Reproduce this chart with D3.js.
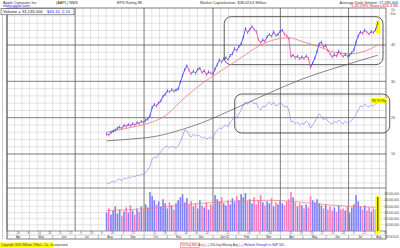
<!DOCTYPE html>
<html>
<head>
<meta charset="utf-8">
<script src="https://cdn.jsdelivr.net/npm/d3@7"></script>
<style>
  body { margin: 0; background: #fff; }
  svg { display: block; font-family: "Liberation Sans", Arial, sans-serif; }
</style>
</head>
<body>
<script>

// ---- chart data ----
const axisStart = new Date(2004, 3, 1), axisEnd = new Date(2005, 7, 20);
const firstDay = new Date(2004, 7, 12), lastDay = new Date(2005, 7, 9);

// closing price, one every two trading days
const closes = [15.5,15.2,15.9,16.3,16.6,17.1,17.4,17.0,17.9,17.6,
  18.1,17.8,18.3,18.0,18.6,18.4,19.0,18.7,19.3,19.6,
  20.5,22.8,23.6,23.2,24.1,24.6,25.9,26.4,27.4,27.1,
  27.7,27.3,27.6,27.9,29.8,31.6,33.2,34.3,33.0,32.1,
  32.8,32.2,33.3,33.6,32.4,32.9,31.8,32.6,32.3,32.0,
  33.4,34.6,35.9,35.3,36.2,36.5,36.0,37.1,37.6,39.0,
  38.4,39.6,40.3,42.1,44.5,43.4,44.3,45.1,44.2,43.8,
  41.5,40.6,41.4,41.0,42.3,42.9,42.4,43.6,42.6,42.9,
  43.8,44.1,43.0,42.6,41.8,36.8,37.2,36.5,36.9,36.2,
  36.7,36.3,37.0,36.4,33.8,35.0,36.4,38.2,40.3,40.8,
  39.4,39.9,38.4,37.6,36.7,37.3,36.9,38.3,37.6,36.8,
  37.4,36.9,37.2,37.9,38.6,40.8,42.5,43.6,43.2,44.1,
  43.5,43.0,43.7,43.4,44.2,46.1];

// daily volume, millions of shares
const volumes = [18,22,16,20,24,17,21,15,19,23,18,25,20,16,22,19,24,21,26,23,
  38,34,30,26,29,24,31,27,22,28,
  25,21,27,30,33,36,28,32,26,29,
  24,27,22,30,25,23,28,21,26,24,
  35,31,29,33,27,25,30,26,32,28,
  34,30,36,33,37,29,31,27,33,26,
  30,35,28,25,29,27,32,24,28,26,
  30,27,25,29,31,38,33,28,24,27,
  25,22,26,23,34,30,28,31,27,25,
  22,26,21,24,20,23,19,25,21,22,
  20,24,18,23,26,35,29,24,21,25,
  20,23,19,22,21,33.2];

// relative strength line (own scale)
const rsLine = [7,6,8,9,8,10,11,9,12,11,13,12,14,13,15,14,16,15,18,20,
  24,31,33,32,36,38,41,43,44,42,44,43,42,44,48,54,60,59,55,53,
  56,54,55,54,52,53,51,52,53,51,57,60,62,61,64,65,63,68,70,74,
  72,76,80,85,88,86,88,89,86,87,82,80,84,83,86,88,85,88,84,85,
  87,86,83,84,80,68,69,66,68,65,67,66,69,67,62,65,68,73,76,74,
  70,72,69,67,66,69,67,70,68,66,69,67,68,70,72,76,80,84,83,86,
  84,83,85,84,86,88];

// moving averages, sampled at points (sample index, value)
const ma50Idx = [0,11,21,27,34,44,53,62,71,84,90,98,105,113,119,125];
const ma50Val = [16.0,17.3,18.8,20.5,24.4,29.4,33.0,36.5,40.0,42.0,41.0,39.5,38.0,37.6,38.3,40.0];
const ma200Idx = [0,11,23,34,44,59,75,90,105,115,125];
const ma200Val = [13.6,14.1,14.9,16.6,18.6,22.5,26.8,30.6,33.6,35.4,37.2];
const volAvgIdx = [0,20,38,60,75,90,105,125];
const volAvgVal = [20,22,26,29,30,28,25,23];

const lastHigh = 46.6, lastLow = 43.3;
const priceMajor = [10,20,30,40];
const priceLabels = [10,20,30,40];
const volTicks = [6,12,18,24,30,36];

// ---- layout ----
const W = 400, H = 248;
const padL = 7, padR = 386, topY = 8, priceBottom = 188, volBottom = 231, axisBottom = 239;

const svg = d3.select("body").append("svg").attr("width", W).attr("height", H);

const x = d3.scaleTime().domain([axisStart, axisEnd]).range([padL, padR]);
const xi = d3.scaleLinear().domain([0, closes.length - 1]).range([x(firstDay), x(lastDay)]);
const y = d3.scaleLinear().domain([0, 50]).range([190.3, 8.7]);
const yv = d3.scaleLinear().domain([0, 40]).range([volBottom, 190]);
const yrs = d3.scaleLinear().domain([0, 100]).range([190, 90]);

const g = svg.append("g");

// minor vertical grid: three per month
const months = d3.timeMonth.range(axisStart, axisEnd);
const minorX = [];
months.forEach(m => {
  const n = d3.timeMonth.offset(m, 1);
  const a = x(m);
  [1/3, 2/3].forEach(f => { const v = a + (x(n) - a) * f; if (v < padR) minorX.push(v); });
  minorX.push(a);
});
g.selectAll("line.vminor").data(minorX).join("line")
  .attr("x1", d => d).attr("x2", d => d).attr("y1", topY).attr("y2", volBottom)
  .attr("stroke", "#c9c9c9").attr("stroke-width", 0.5);

// minor horizontal grid, price every 2
g.selectAll("line.hminor").data(d3.range(2, 50, 2)).join("line")
  .attr("x1", padL).attr("x2", padR).attr("y1", d => y(d)).attr("y2", d => y(d))
  .attr("stroke", "#c9c9c9").attr("stroke-width", 0.5);

// volume grid
g.selectAll("line.vgrid").data(volTicks).join("line")
  .attr("x1", padL).attr("x2", padR).attr("y1", d => yv(d)).attr("y2", d => yv(d))
  .attr("stroke", "#c9c9c9").attr("stroke-width", 0.5);

// major grid
const quarters = d3.timeMonth.every(3).range(axisStart, axisEnd);
g.selectAll("line.vmajor").data(quarters).join("line")
  .attr("x1", d => x(d)).attr("x2", d => x(d)).attr("y1", topY).attr("y2", volBottom)
  .attr("stroke", "#5a5a5a").attr("stroke-width", 0.7);
g.selectAll("line.hmajor").data(priceMajor).join("line")
  .attr("x1", padL).attr("x2", padR).attr("y1", d => y(d)).attr("y2", d => y(d))
  .attr("stroke", "#5a5a5a").attr("stroke-width", 0.7);

// frame
g.append("rect").attr("x", padL).attr("y", topY).attr("width", padR - padL).attr("height", axisBottom - topY)
  .attr("fill", "none").attr("stroke", "#444").attr("stroke-width", 0.7);
g.append("line").attr("x1", 2.5).attr("x2", 2.5).attr("y1", topY).attr("y2", axisBottom)
  .attr("stroke", "#999").attr("stroke-width", 0.5);
g.append("line").attr("x1", padL).attr("x2", padR).attr("y1", priceBottom).attr("y2", priceBottom)
  .attr("stroke", "#5a5a5a").attr("stroke-width", 0.7);
g.append("line").attr("x1", padL).attr("x2", padR).attr("y1", volBottom).attr("y2", volBottom)
  .attr("stroke", "#444").attr("stroke-width", 0.6);
g.append("line").attr("x1", padL).attr("x2", padR).attr("y1", 235).attr("y2", 235)
  .attr("stroke", "#999").attr("stroke-width", 0.4);

// annotation boxes
const box1 = {d0: new Date(2005, 0, 16), d1: new Date(2005, 7, 16), p0: 47.8, p1: 34.6};
const box2 = {d0: new Date(2005, 0, 30), d1: new Date(2005, 7, 25), r0: 96, r1: 57};
svg.append("rect").attr("x", x(box1.d0)).attr("y", y(box1.p0))
  .attr("width", x(box1.d1) - x(box1.d0)).attr("height", y(box1.p1) - y(box1.p0))
  .attr("rx", 7).attr("fill", "none").attr("stroke", "#333").attr("stroke-width", 0.8);
svg.append("rect").attr("x", x(box2.d0)).attr("y", yrs(box2.r0))
  .attr("width", x(box2.d1) - x(box2.d0)).attr("height", yrs(box2.r1) - yrs(box2.r0))
  .attr("rx", 7).attr("fill", "none").attr("stroke", "#333").attr("stroke-width", 0.8);

// volume bars
const upColor = "#3a3aff", downColor = "#f0449c";
svg.selectAll("rect.vol").data(volumes).join("rect")
  .attr("x", (d, i) => xi(i) - 0.8).attr("width", 1.6)
  .attr("y", d => yv(d)).attr("height", d => volBottom - yv(d))
  .attr("fill", (d, i) => i > 0 && closes[i] < closes[i - 1] ? "#f77cbf" : "#7f7ff7");

// volume average line
svg.append("path")
  .datum(volAvgIdx.map((d, i) => [xi(d), yv(volAvgVal[i])]))
  .attr("d", d3.line().curve(d3.curveMonotoneX))
  .attr("fill", "none").attr("stroke", "#f27c7c").attr("stroke-width", 0.7);

// last-day highlight (volume)
const li = closes.length - 1;
svg.append("rect").attr("x", xi(li) - 2.4).attr("y", yv(volumes[li] + 0.6)).attr("width", 5)
  .attr("height", 233.5 - yv(volumes[li] + 0.6)).attr("fill", "#ffff00");
svg.append("rect").attr("x", xi(li) - 0.5).attr("y", yv(volumes[li])).attr("width", 1.1)
  .attr("height", volBottom - yv(volumes[li])).attr("fill", "#333");

// moving averages
svg.append("path")
  .datum(ma200Idx.map((d, i) => [xi(d), y(ma200Val[i])]))
  .attr("d", d3.line().curve(d3.curveMonotoneX))
  .attr("fill", "none").attr("stroke", "#555").attr("stroke-width", 0.7);
svg.append("path")
  .datum(ma50Idx.map((d, i) => [xi(d), y(ma50Val[i])]))
  .attr("d", d3.line().curve(d3.curveMonotoneX))
  .attr("fill", "none").attr("stroke", "#f07878").attr("stroke-width", 0.8);

// relative strength line
svg.append("path")
  .datum(rsLine)
  .attr("d", d3.line().x((d, i) => xi(i)).y(d => yrs(d)))
  .attr("fill", "none").attr("stroke", "#7a7af5").attr("stroke-width", 0.6);

// last-day highlight (price)
svg.append("rect").attr("x", xi(li) - 2).attr("y", y(lastHigh)).attr("width", 4.5)
  .attr("height", y(lastLow) - y(lastHigh)).attr("fill", "#ffff00");

// price bars as up/down segments
svg.selectAll("line.px").data(d3.range(1, closes.length)).join("line")
  .attr("x1", i => xi(i - 1)).attr("x2", i => xi(i))
  .attr("y1", i => y(closes[i - 1])).attr("y2", i => y(closes[i]))
  .attr("stroke", i => closes[i] >= closes[i - 1] ? upColor : downColor)
  .attr("stroke-width", 0.8);
svg.selectAll("line.tick").data(closes).join("line")
  .attr("x1", (d, i) => xi(i)).attr("x2", (d, i) => xi(i))
  .attr("y1", d => y(d) - 1.5).attr("y2", d => y(d) + 1.5)
  .attr("stroke", (d, i) => i > 0 && d < closes[i - 1] ? downColor : upColor)
  .attr("stroke-width", 0.7);

// RS label
svg.append("rect").attr("x", xi(li) - 7).attr("y", yrs(rsLine[li]) - 4).attr("width", 16).attr("height", 5)
  .attr("fill", "#ffff00");
svg.append("text").attr("x", xi(li) + 1).attr("y", yrs(rsLine[li]) - 0.4).attr("text-anchor", "middle")
  .attr("font-size", 3.2).attr("fill", "#333").text("RS 93 Rtg");

// right labels
svg.selectAll("text.py").data(priceLabels).join("text")
  .attr("x", 393).attr("y", d => y(d) + 1.3).attr("text-anchor", "middle")
  .attr("font-size", 3.6).attr("fill", "#444").text(d => d);
svg.selectAll("text.vy").data(volTicks).join("text")
  .attr("x", 399).attr("y", d => yv(d) + 1.2).attr("text-anchor", "end")
  .attr("font-size", 2.9).attr("fill", "#444").text(d => d3.format(",")(d * 1000000));
svg.append("text").attr("x", 393).attr("y", 11).attr("text-anchor", "middle")
  .attr("font-size", 3).attr("fill", "#666").text("Qtr");
svg.append("text").attr("x", 393).attr("y", 14.5).attr("text-anchor", "middle")
  .attr("font-size", 3).attr("fill", "#666").text("Sale");

// date axis
const fridays = d3.timeFriday.range(axisStart, axisEnd).filter((d, i) => i % 2 === 0);
svg.selectAll("text.wk").data(fridays).join("text")
  .attr("x", d => x(d)).attr("y", 234.2).attr("text-anchor", "middle")
  .attr("font-size", 2.8).attr("fill", "#555").text(d3.timeFormat("%-d"));
svg.selectAll("line.mtick").data(months).join("line")
  .attr("x1", d => x(d)).attr("x2", d => x(d)).attr("y1", 235).attr("y2", axisBottom)
  .attr("stroke", "#777").attr("stroke-width", 0.5);
svg.selectAll("text.mo").data(months).join("text")
  .attr("x", d => (x(d) + Math.min(x(d3.timeMonth.offset(d, 1)), padR)) / 2).attr("y", 238.3)
  .attr("text-anchor", "middle").attr("font-size", 3).attr("fill", "#333")
  .text(d => d.getMonth() === 0 ? d3.timeFormat("%b %y")(d) : d3.timeFormat("%b")(d));
svg.append("text").attr("x", 399).attr("y", 237.5).attr("text-anchor", "end")
  .attr("font-size", 2.8).attr("fill", "#555").text("08/09/2005");

// header
const hdr = svg.append("g").attr("font-size", 3.8).attr("fill", "#333");
hdr.append("text").attr("x", 3).attr("y", 3.8).text("Apple Computer Inc");
hdr.append("text").attr("x", 56).attr("y", 3.8).text("(AAPL)  NMS");
hdr.append("text").attr("x", 117).attr("y", 3.8).text("EPS Rating 88");
hdr.append("text").attr("x", 200).attr("y", 3.8).text("Market Capitalization: $38,024.6 Million");
hdr.append("text").attr("x", 398).attr("y", 3.8).attr("text-anchor", "end").text("Average Daily Volume: 17,285,000");
hdr.append("text").attr("x", 3).attr("y", 7.4).attr("fill", "#2222ee").attr("text-decoration", "underline").text("www.apple.com");
hdr.append("text").attr("x", 398).attr("y", 7.4).attr("text-anchor", "end").attr("fill", "#e02020").text("1.26  0.8%  Shares 826.4 Mil");

svg.append("rect").attr("x", 1).attr("y", 8.5).attr("width", 73).attr("height", 6.3)
  .attr("fill", "#fff").attr("stroke", "#333").attr("stroke-width", 0.5);
svg.append("text").attr("x", 3).attr("y", 13.2).attr("font-size", 4.2)
  .attr("fill", "#222").text("Volume = 33,245,000");
svg.append("text").attr("x", 47).attr("y", 13.2).attr("font-size", 4.2).attr("fill", "#2222ee").text("$46.10");
svg.append("text").attr("x", 62).attr("y", 13.2).attr("font-size", 4.2).attr("fill", "#2222ee").text("2.10");

// footer
svg.append("rect").attr("x", 0).attr("y", 242.5).attr("width", 53).attr("height", 5).attr("fill", "#ffff00");
svg.append("text").attr("x", 1).attr("y", 246.3).attr("font-size", 3).attr("fill", "#333")
  .text("Copyright 2005 William O'Neil + Co., Incorporated");
svg.append("rect").attr("x", 180.5).attr("y", 243).attr("width", 19).attr("height", 4.5)
  .attr("fill", "none").attr("stroke", "#e03030").attr("stroke-width", 0.4);
const leg = svg.append("text").attr("x", 181.5).attr("y", 246.3).attr("font-size", 3);
leg.append("tspan").attr("fill", "#e03030").text("50-Day Mov Avg ");
leg.append("tspan").attr("fill", "#333").text(" (—) 200-Day Moving Avg ");
leg.append("tspan").attr("fill", "#2222ee").text(" (—) Relative Strength vs S&P 500");

</script>
</body>
</html>
